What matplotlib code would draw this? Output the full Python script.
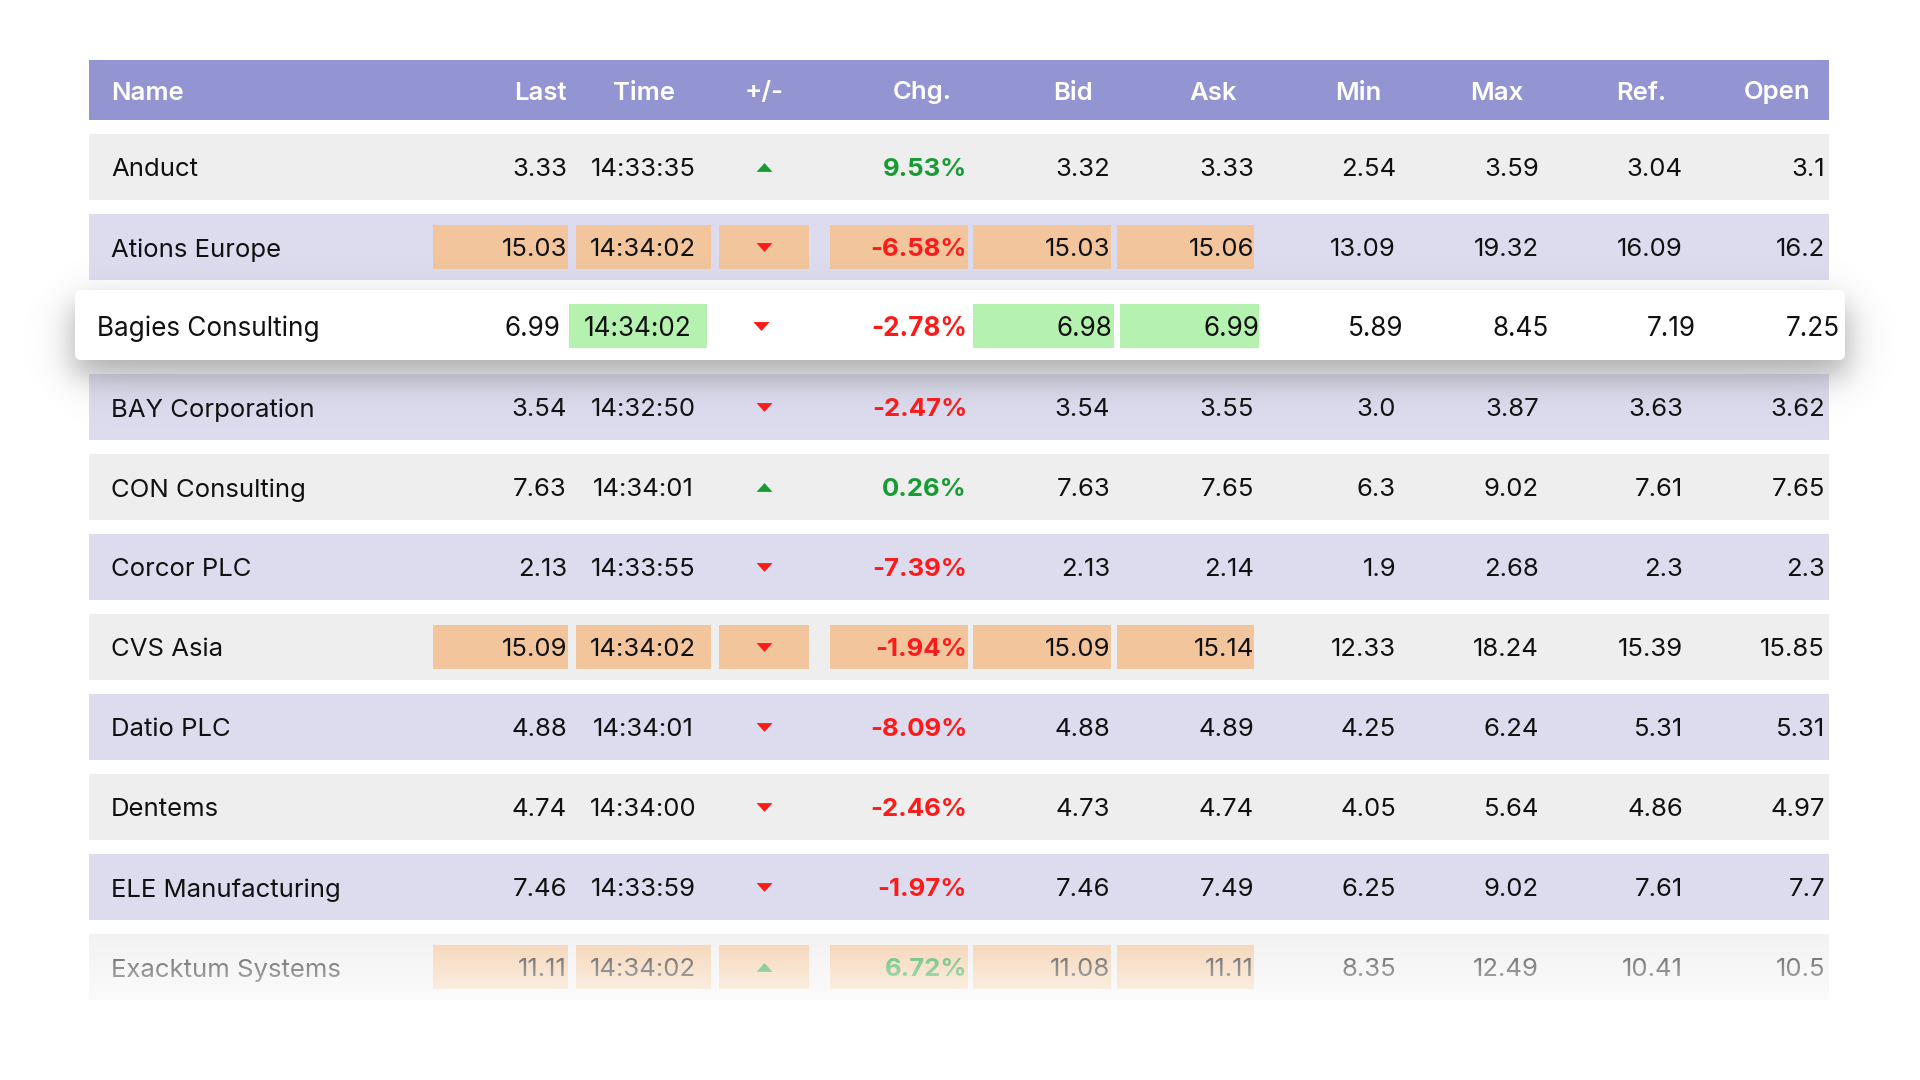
import numpy as np
import matplotlib
matplotlib.use("Agg")
import matplotlib.pyplot as plt
from matplotlib.patches import Rectangle, FancyBboxPatch

# ---------------- data ----------------
columns = ["Name", "Last", "Time", "+/-", "Chg.", "Bid", "Ask", "Min", "Max", "Ref.", "Open"]
names = ["Anduct", "Ations Europe", "Bagies Consulting", "BAY Corporation", "CON Consulting",
         "Corcor PLC", "CVS Asia", "Datio PLC", "Dentems", "ELE Manufacturing", "Exacktum Systems"]
last = [3.33, 15.03, 6.99, 3.54, 7.63, 2.13, 15.09, 4.88, 4.74, 7.46, 11.11]
times = ["14:33:35", "14:34:02", "14:34:02", "14:32:50", "14:34:01", "14:33:55",
         "14:34:02", "14:34:01", "14:34:00", "14:33:59", "14:34:02"]
chg = [9.53, -6.58, -2.78, -2.47, 0.26, -7.39, -1.94, -8.09, -2.46, -1.97, 6.72]
bid = [3.32, 15.03, 6.98, 3.54, 7.63, 2.13, 15.09, 4.88, 4.73, 7.46, 11.08]
ask = [3.33, 15.06, 6.99, 3.55, 7.65, 2.14, 15.14, 4.89, 4.74, 7.49, 11.11]
mins = [2.54, 13.09, 5.89, 3.0, 6.3, 1.9, 12.33, 4.25, 4.05, 6.25, 8.35]
maxs = [3.59, 19.32, 8.45, 3.87, 9.02, 2.68, 18.24, 6.24, 5.64, 9.02, 12.49]
ref = [3.04, 16.09, 7.19, 3.63, 7.61, 2.3, 15.39, 5.31, 4.86, 7.61, 10.41]
opens = [3.1, 16.2, 7.25, 3.62, 7.65, 2.3, 15.85, 5.31, 4.97, 7.7, 10.5]
# flash highlight per row: None, 'orange' (Last..Ask) or 'green' (Time, Bid, Ask)
flash = [None, "orange", "green", None, None, None, "orange", None, None, None, "orange"]
selected_row = 2
fade_row = 10

# ---------------- style ----------------
HEADER_BG = "#9395d3"
ROW_A = "#eeeeee"
ROW_B = "#dddcef"
ORANGE = "#f2c59c"
GREEN_BG = "#b5f2b0"
UP = "#169c33"
DOWN = "#ff1a1a"
FONT = ["Inter", "DejaVu Sans"]
FS = 18.5

plt.rcParams["font.family"] = FONT

W, H = 1920, 1080
fig = plt.figure(figsize=(19.2, 10.8), dpi=100)
ax = fig.add_axes([0, 0, 1, 1])
ax.set_xlim(0, W)
ax.set_ylim(H, 0)
ax.axis("off")

X0, X1 = 89, 1829
HEAD_Y0, HEAD_Y1 = 60, 120
ROW_Y0, ROW_H, ROW_P = 134, 66, 80

val_x = {"Last": 567, "Time": 643, "+/-": 764, "Chg.": 967, "Bid": 1110, "Ask": 1254,
         "Min": 1396, "Max": 1539, "Ref.": 1683, "Open": 1825}
val_ha = {"Last": "right", "Time": "center", "+/-": "center", "Chg.": "right", "Bid": "right",
          "Ask": "right", "Min": "right", "Max": "right", "Ref.": "right", "Open": "right"}
head_x = {"Name": (111, "left"), "Last": (567, "right"), "Time": (644, "center"),
          "+/-": (764, "center"), "Chg.": (952, "right"), "Bid": (1093, "right"),
          "Ask": (1237, "right"), "Min": (1381, "right"), "Max": (1523, "right"),
          "Ref.": (1666, "right"), "Open": (1810, "right")}
box_x = {"Last": (433, 568), "Time": (576, 711), "+/-": (719, 809), "Chg.": (830, 968),
         "Bid": (973, 1111), "Ask": (1117, 1254)}

# header
ax.add_patch(Rectangle((X0, HEAD_Y0), X1 - X0, HEAD_Y1 - HEAD_Y0, facecolor=HEADER_BG,
                       edgecolor="none", zorder=1))
for c in columns:
    x, ha = head_x[c]
    ax.text(x, (HEAD_Y0 + HEAD_Y1) / 2 + 3, c, ha=ha, va="center", color="white",
            fontsize=FS, fontweight="semibold", zorder=5)


def draw_row(i, yc, scale=1.0, cx=959.0, bg=None, z=2):
    def sx(x):
        return cx + (x - cx) * scale
    fs = FS * scale
    h = ROW_H
    if bg is not None:
        ax.add_patch(Rectangle((X0, yc - h / 2), X1 - X0, h, facecolor=bg, edgecolor="none", zorder=z))
    if flash[i] == "orange":
        cols = ["Last", "Time", "+/-", "Chg.", "Bid", "Ask"]
        fc = ORANGE
    elif flash[i] == "green":
        cols = ["Time", "Bid", "Ask"]
        fc = GREEN_BG
    else:
        cols = []
        fc = None
    for c in cols:
        a, b = box_x[c]
        ax.add_patch(Rectangle((sx(a), yc - 22 * scale), sx(b) - sx(a), 44 * scale,
                               facecolor=fc, edgecolor="none", zorder=z + 0.5))
    ty = yc + 3
    ax.text(sx(111), ty, names[i], ha="left", va="center", fontsize=fs, color="#111111", zorder=z + 1)
    vals = {"Last": str(last[i]), "Time": times[i], "Bid": str(bid[i]), "Ask": str(ask[i]),
            "Min": str(mins[i]), "Max": str(maxs[i]), "Ref.": str(ref[i]), "Open": str(opens[i])}
    for c, v in vals.items():
        ax.text(sx(val_x[c]), ty, v, ha=val_ha[c], va="center", fontsize=fs,
                color="#111111", zorder=z + 1)
    up = chg[i] >= 0
    col = UP if up else DOWN
    ax.text(sx(val_x["Chg."]), ty, f"{chg[i]:.2f}%", ha="right", va="center", fontsize=fs,
            fontweight="bold", color=col, zorder=z + 1)
    tri_up = [(-1, -0.55), (1, -0.55), (0, 0.55)]
    tri_dn = [(-1, 0.55), (1, 0.55), (0, -0.55)]
    ax.scatter([sx(val_x["+/-"])], [yc], marker=tri_up if up else tri_dn, s=(11.5 * scale) ** 2,
               color=col, linewidths=0, zorder=z + 1)


for i in range(len(names)):
    yc = ROW_Y0 + i * ROW_P + ROW_H / 2
    if i == selected_row:
        continue
    draw_row(i, yc, bg=ROW_A if i % 2 == 0 else ROW_B)

# selected (lifted) row with soft shadow
sel_x0, sel_x1 = 75, 1845
sel_y0, sel_y1 = 290, 360
gx = np.arange(0, W)
gy = np.arange(200, 480)
s = 20.0
shx = 0.5 * (np.tanh((gx - (sel_x0 - 2)) / s) - np.tanh((gx - (sel_x1 + 2)) / s))
shy = 0.5 * (np.tanh((gy - (sel_y0 + 14)) / s) - np.tanh((gy - (sel_y1 + 16)) / s))
alpha = 0.6 * np.outer(shy, shx)
rgba = np.zeros((len(gy), len(gx), 4))
rgba[..., 0:3] = 0.45
rgba[..., 3] = alpha
ax.imshow(rgba, extent=(0, W, gy[-1] + 1, gy[0]), aspect="auto", zorder=8, interpolation="bilinear")
ax.add_patch(FancyBboxPatch((sel_x0, sel_y0), sel_x1 - sel_x0, sel_y1 - sel_y0,
                            boxstyle="round,pad=0,rounding_size=6", facecolor="white",
                            edgecolor="none", zorder=9))
draw_row(selected_row, 326, scale=1.017, cx=960, bg=None, z=10)

# fade-out of the last row
fy0 = ROW_Y0 + fade_row * ROW_P - 4
fy1 = fy0 + ROW_H + 12
fy = np.linspace(0, 1, 120)
fa = np.clip(0.22 + 0.62 * fy, 0, 1)
fade = np.ones((len(fy), 2, 4))
fade[..., 3] = fa[:, None]
ax.imshow(fade, extent=(0, W, fy1, fy0), aspect="auto", zorder=20, interpolation="bilinear")

ax.set_xlim(0, W)
ax.set_ylim(H, 0)
fig.savefig("out.png", dpi=100, facecolor="white")
